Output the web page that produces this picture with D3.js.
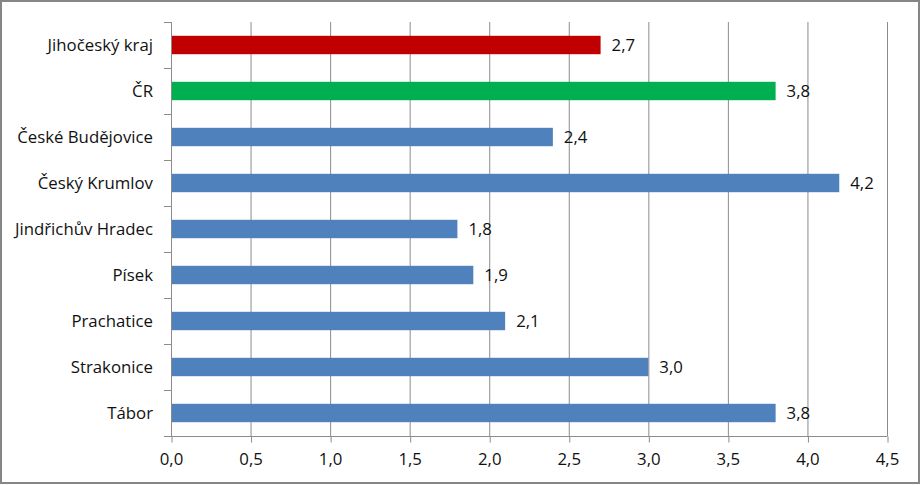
<!DOCTYPE html>
<html><head><meta charset="utf-8">
<script src="https://cdn.jsdelivr.net/npm/d3@7"></script>
<style>body{margin:0;background:#fff}svg{display:block}text{font-family:"Open Sans",Lato,sans-serif;fill:#111}</style>
</head><body><svg id="c" width="921" height="485"></svg>
<script>
const categories = ["Jihočeský kraj","ČR","České Budějovice","Český Krumlov","Jindřichův Hradec","Písek","Prachatice","Strakonice","Tábor"];
const values = [2.7,3.8,2.4,4.2,1.8,1.9,2.1,3.0,3.8];
const barColors = ["#C00000","#00B050","#4F81BD","#4F81BD","#4F81BD","#4F81BD","#4F81BD","#4F81BD","#4F81BD"];
const xTicks = [0,0.5,1,1.5,2,2.5,3,3.5,4,4.5];

const FS = 16.8, FF = "'Open Sans',Lato,sans-serif";
const svg = d3.select("#c");
svg.append("rect").attr("x",1).attr("y",1).attr("width",918).attr("height",482)
  .attr("fill","#fff").attr("stroke","#868686").attr("stroke-width",2);

const L=171, R=887, T=22, B=436;
const x = d3.scaleLinear().domain([0,4.5]).range([L,R]);
const y = d3.scaleBand().domain(categories).range([T,B]).paddingInner(0.6).paddingOuter(0.3);
const fmt = v => d3.format(".1f")(v).replace(".",",");

// gridlines
svg.append("g").selectAll("line").data(xTicks.slice(1)).join("line")
  .attr("x1",d=>x(d)+0.5).attr("x2",d=>x(d)+0.5).attr("y1",T).attr("y2",B)
  .attr("stroke","#8c8c8c").attr("stroke-width",1);

// bars
svg.append("g").selectAll("rect").data(values).join("rect")
  .attr("x",x(0)).attr("y",(d,i)=>y(categories[i]))
  .attr("width",d=>x(d)-x(0)).attr("height",y.bandwidth())
  .attr("fill",(d,i)=>barColors[i]);

// value labels
svg.append("g").selectAll("text").data(values).join("text")
  .attr("x",d=>x(d)+11).attr("y",(d,i)=>y(categories[i])+y.bandwidth()/2)
  .attr("dy","0.35em").attr("font-size",FS).text(d=>fmt(d));

// x axis
const xa = svg.append("g").attr("transform",`translate(0,${B+0.5})`)
  .call(d3.axisBottom(x).tickValues(xTicks).tickFormat(fmt).tickSize(6).tickPadding(11));
xa.select(".domain").attr("stroke","#8c8c8c").attr("d",`M${L-7},0H${R+0.5}`);
xa.selectAll(".tick line").attr("stroke","#8c8c8c").attr("transform","translate(0.5,0)");
xa.selectAll("text").attr("font-size",FS).attr("font-family",FF).attr("fill","#111");

// y axis
const bounds = d3.range(categories.length+1).map(i=>T+i*(B-T)/categories.length);
svg.append("line").attr("x1",L+0.5).attr("x2",L+0.5).attr("y1",T).attr("y2",B).attr("stroke","#8c8c8c");
svg.append("g").selectAll("line").data(bounds).join("line")
  .attr("x1",L-7).attr("x2",L).attr("y1",d=>Math.round(d)+0.5).attr("y2",d=>Math.round(d)+0.5).attr("stroke","#8c8c8c");
svg.append("g").selectAll("text").data(categories).join("text")
  .attr("x",L-18).attr("y",d=>y(d)+y.bandwidth()/2).attr("dy","0.35em")
  .attr("text-anchor","end").attr("font-size",FS).text(d=>d);
</script></body></html>
